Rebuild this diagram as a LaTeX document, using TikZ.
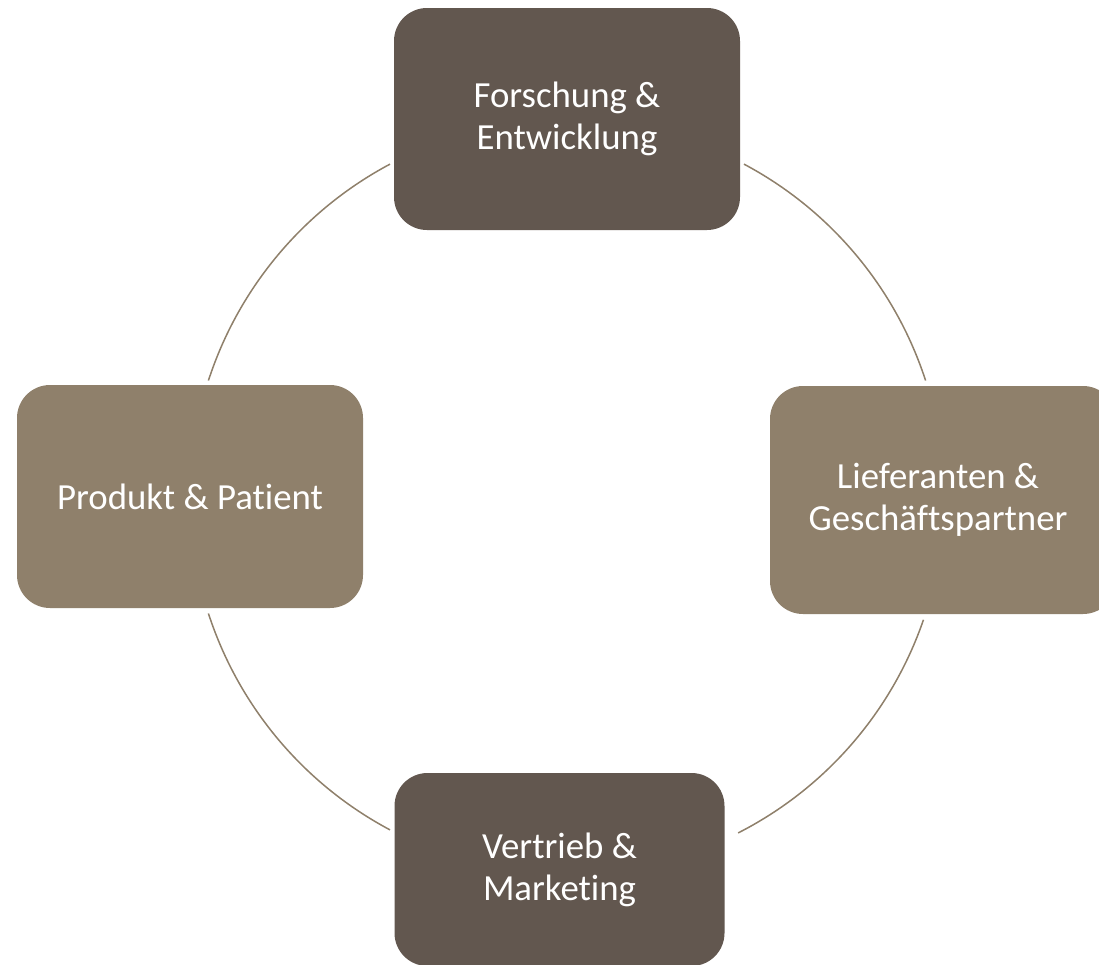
\documentclass[tikz,border=0pt]{standalone}
\usepackage{fontspec}
\setmainfont{Carlito}[Ligatures={NoCommon}]
\usetikzlibrary{calc}
\definecolor{darkbox}{HTML}{62574F}
\definecolor{lightbox}{HTML}{8F806B}
\begin{document}
\begin{tikzpicture}[x=1pt,y=-1pt,
  box/.style={rounded corners=33pt, text=white, align=center,
    font=\fontsize{36.8}{42}\selectfont, inner sep=0pt},
  arcline/.style={draw=lightbox, line width=1.5pt}]
\useasboundingbox (0,0) rectangle (1099,964);
\clip (0,0) rectangle (1099,964);
\fill[white] (0,0) rectangle (1099,964);
\coordinate (o) at (567,497);
\draw[arcline] ($(o)+(-62:377)$) arc[start angle=-62,end angle=-18,radius=377];
\draw[arcline] ($(o)+(19:377)$) arc[start angle=19,end angle=63,radius=377];
\draw[arcline] ($(o)+(118:377)$) arc[start angle=118,end angle=162,radius=377];
\draw[arcline] ($(o)+(198:377)$) arc[start angle=198,end angle=242,radius=377];
\node[box, fill=darkbox, minimum width=346pt, minimum height=222pt] (fe) at (567,119) {Forschung \&\\Entwicklung};
\node[box, fill=lightbox, minimum width=346pt, minimum height=228pt] (lg) at (943,500) {};
\node[text=white, align=center, font=\fontsize{36.8}{42}\selectfont, inner sep=0pt] (lgt) at (938,500) {Lieferanten \&\\Geschäftspartner};
\node[box, fill=lightbox, minimum width=346pt, minimum height=223pt] (pp) at (190,496.5) {Produkt \& Patient};
\node[box, fill=darkbox, minimum width=330pt, minimum height=193pt] (vm) at (559.5,869.5) {Vertrieb \&\\Marketing};
\end{tikzpicture}
\end{document}
